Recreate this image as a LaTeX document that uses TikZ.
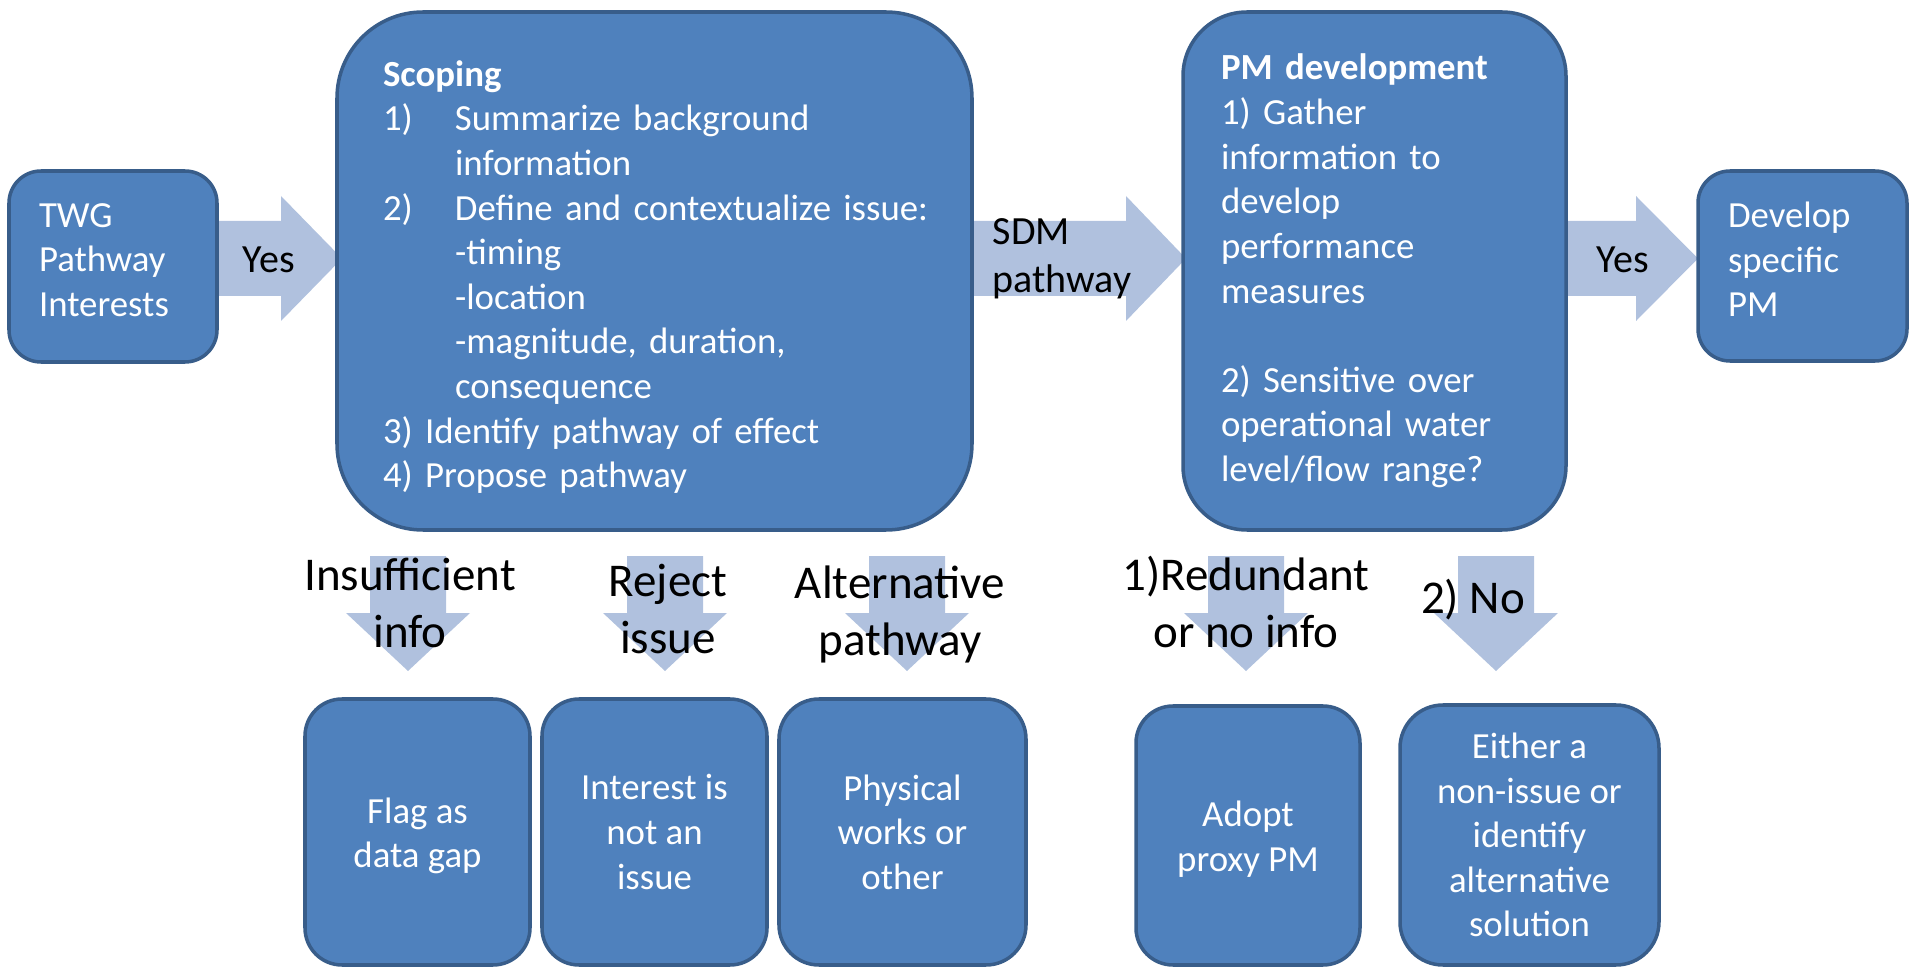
\documentclass[tikz,border=0pt]{standalone}
\usepackage{fontspec}
\setmainfont{Carlito}

\definecolor{boxfill}{HTML}{4F81BD}
\definecolor{boxline}{HTML}{385D8A}
\definecolor{arrowfill}{HTML}{B0C1DE}

\newcommand\boxfont{\fontsize{10.47}{12.7}\selectfont}
\newcommand\lblfont{\fontsize{13.37}{16.2}\selectfont}
\newcommand\arrfont{\fontsize{11.38}{13.66}\selectfont}

\tikzset{
  box/.style={draw=boxline, fill=boxfill, line width=1pt, rounded corners=#1,
    text=white, inner sep=0pt, font=\boxfont},
  blockarrow/.style={fill=arrowfill},
  lbl/.style={font=\lblfont, align=center, inner sep=0pt, anchor=base},
  hlbl/.style={font=\arrfont, align=left, inner sep=0pt, anchor=base west},
}

\begin{document}
\begin{tikzpicture}[x=0.1mm, y=-0.1mm]
  \useasboundingbox (0,0) rectangle (1911,972);

  % block arrows, left to right
  \fill[blockarrow] (210,221) -- (281,221) -- (281,196) -- (342,258.5)
    -- (281,321) -- (281,296) -- (210,296) -- cycle;
  \fill[blockarrow] (965,221) -- (1126,221) -- (1126,196) -- (1186,258.5)
    -- (1126,321) -- (1126,296) -- (965,296) -- cycle;
  \fill[blockarrow] (1560,221) -- (1636,221) -- (1636,196) -- (1698,258.5)
    -- (1636,321) -- (1636,296) -- (1560,296) -- cycle;
  % block arrows, downwards
  \foreach \c in {408,665,907,1246,1496}
    \fill[blockarrow] (\c-38,556) -- (\c+38,556) -- (\c+38,613) -- (\c+62,613)
      -- (\c,671) -- (\c-62,613) -- (\c-38,613) -- cycle;

  % top row
  \node[box=3.2mm, minimum width=20.8mm, minimum height=19.1mm, text width=14.8mm,
    align=left] (twg) at (113,266.5) {TWG\\Pathway\\Interests\rule[-1.3mm]{0pt}{0pt}};
  \node[box=8.6mm, minimum width=63.5mm, minimum height=51.8mm, text width=54.3mm,
    align=left] (scope) at (654.5,271) {\rule{0pt}{3.8mm}\textbf{Scoping}\\
    \makebox[7.2mm][l]{1)}Summarize background\\
    \hspace*{7.2mm}information\\
    \mbox{\makebox[7.2mm][l]{2)}Define and contextualize issue:}\\
    \hspace*{7.2mm}-timing\\
    \hspace*{7.2mm}-location\\
    \hspace*{7.2mm}-magnitude, duration,\\
    \hspace*{7.2mm}consequence\\
    3) Identify pathway of effect\\
    4) Propose pathway};
  \node[box=6.4mm, minimum width=38.3mm, minimum height=51.8mm, text width=30.7mm,
    align=left] (pmdev) at (1374.5,271) {\textbf{PM development}\\
    1) Gather\\information to\\develop\\performance\\measures\\[12.7pt]
    2) Sensitive over\\operational water\\level/flow range?};
  \node[box=3.2mm, minimum width=20.9mm, minimum height=19mm, text width=14.9mm,
    align=left] (dev) at (1802.5,266) {Develop\\specific\\PM\rule[-1.3mm]{0pt}{0pt}};

  % bottom row
  \node[box=3.7mm, minimum width=22.5mm, minimum height=26.6mm, align=center]
    (gap) at (417.5,832) {\rule{0pt}{3.3mm}Flag as\\data gap};
  \node[box=3.7mm, minimum width=22.5mm, minimum height=26.6mm, align=center]
    (notissue) at (654.5,832) {Interest is\\not an\\issue};
  \node[box=4mm, minimum width=24.7mm, minimum height=26.6mm, align=center]
    (works) at (902.5,832) {Physical\\works or\\other};
  \node[box=3.7mm, minimum width=22.4mm, minimum height=25.9mm, align=center]
    (proxy) at (1248,835.5) {\rule{0pt}{3.3mm}Adopt\\proxy PM};
  \node[box=4.3mm, minimum width=25.9mm, minimum height=26mm, align=center]
    (either) at (1529.5,835) {Either a\\non-issue or\\identify\\alternative\\solution};

  % arrow labels (base = last line)
  \node[hlbl] (yes1) at (242,273) {Yes};
  \node[hlbl] (sdm) at (992,293) {SDM\\pathway};
  \node[hlbl] (yes2) at (1596,273) {Yes};
  \node[lbl] (insuf) at (410,647) {Insufficient\\info};
  \node[lbl] (reject) at (668,653) {Reject\\issue};
  \node[lbl] (altpath) at (900,655) {Alternative\\pathway};
  \node[lbl] (redund) at (1246,647) {1)Redundant\\or no info};
  \node[lbl] (no) at (1473,613) {2) No};
\end{tikzpicture}
\end{document}
